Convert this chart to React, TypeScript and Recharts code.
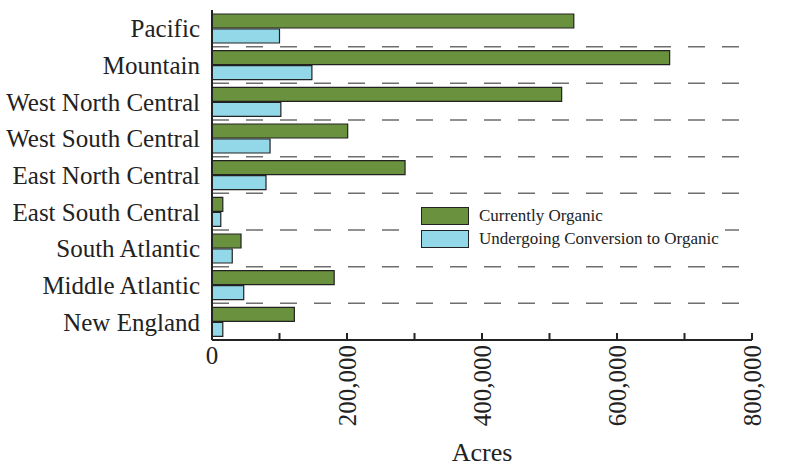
import React from 'react';
import { BarChart, Bar, XAxis, YAxis, ReferenceLine } from 'recharts';

const regions = [
  'Pacific',
  'Mountain',
  'West North Central',
  'West South Central',
  'East North Central',
  'East South Central',
  'South Atlantic',
  'Middle Atlantic',
  'New England',
];
const currentlyOrganic = [536000, 678000, 518000, 201000, 286000, 16000, 43000, 181000, 122000];
const undergoingConversion = [100000, 148000, 102000, 86000, 80000, 13000, 30000, 47000, 16000];
const xTicks = [0, 100000, 200000, 300000, 400000, 500000, 600000, 700000, 800000];

const GREEN = '#6a913e';
const BLUE = '#93d8e8';
const INK = '#222';
const FONT = '"Liberation Serif", "DejaVu Serif", serif';

const data = regions.map((region, i) => ({
  region,
  organic: currentlyOrganic[i],
  conversion: undergoingConversion[i],
}));

const series = [
  { key: 'organic', name: 'Currently Organic', color: GREEN },
  { key: 'conversion', name: 'Undergoing Conversion to Organic', color: BLUE },
];

const fmt = (v: number) => v.toLocaleString('en-US');

// ticks point up into the plot, labels only every 200,000
const AcresTick = (props: any) => {
  const { x, y, payload } = props;
  const v = payload.value as number;
  const showLabel = v % 200000 === 0;
  return (
    <g>
      <line x1={x} x2={x} y1={y} y2={y - 7} stroke={INK} strokeWidth={2} />
      {showLabel && v === 0 && (
        <text x={x} y={y + 24} textAnchor="middle" fill={INK} fontSize={25} fontFamily={FONT}>
          {fmt(v)}
        </text>
      )}
      {showLabel && v !== 0 && (
        <text
          x={x}
          y={y + 5}
          transform={`rotate(-90, ${x}, ${y + 5})`}
          textAnchor="end"
          dominantBaseline="central"
          fill={INK}
          fontSize={25}
          fontFamily={FONT}
        >
          {fmt(v)}
        </text>
      )}
    </g>
  );
};

export default function App() {
  return (
    <div style={{ position: 'absolute', left: 0, top: 0, width: 787, height: 469, background: '#fff' }}>
      <BarChart
        width={787}
        height={469}
        data={data}
        layout="vertical"
        margin={{ top: 10, right: 35, left: 0, bottom: 0 }}
        barCategoryGap={4}
        barGap={1}
      >
        {regions.slice(1).map((r) => (
          <ReferenceLine
            key={r}
            y={r}
            position="start"
            stroke="#6e6e6e"
            strokeWidth={1.5}
            strokeDasharray="17 17"
          />
        ))}
        <XAxis
          type="number"
          domain={[0, 800000]}
          ticks={xTicks}
          interval={0}
          height={129}
          tickSize={0}
          tickMargin={0}
          tickLine={false}
          axisLine={{ stroke: INK, strokeWidth: 2 }}
          tick={<AcresTick />}
          label={{
            value: 'Acres',
            position: 'insideBottom',
            offset: 8,
            fill: INK,
            fontSize: 26,
            fontFamily: FONT,
          }}
        />
        <YAxis
          type="category"
          dataKey="region"
          width={212}
          interval={0}
          tickSize={0}
          tickMargin={12}
          tickLine={false}
          axisLine={{ stroke: INK, strokeWidth: 2 }}
          tick={{ fill: INK, fontSize: 25, fontFamily: FONT }}
        />
        {series.map((s) => (
          <Bar
            key={s.key}
            dataKey={s.key}
            name={s.name}
            fill={s.color}
            stroke={INK}
            strokeWidth={1.2}
            isAnimationActive={false}
          />
        ))}
      </BarChart>
      <div
        style={{
          position: 'absolute',
          left: 414,
          top: 201,
          padding: '3px 6px 3px 7px',
          background: '#fff',
          fontFamily: FONT,
          fontSize: 17,
          color: INK,
          lineHeight: '23px',
        }}
      >
        {series.map((s) => (
          <div key={s.key} style={{ display: 'flex', alignItems: 'center', height: 23 }}>
            <span
              style={{
                display: 'inline-block',
                width: 46,
                height: 16,
                background: s.color,
                border: `1.5px solid ${INK}`,
                marginRight: 10,
              }}
            />
            {s.name}
          </div>
        ))}
      </div>
    </div>
  );
}
